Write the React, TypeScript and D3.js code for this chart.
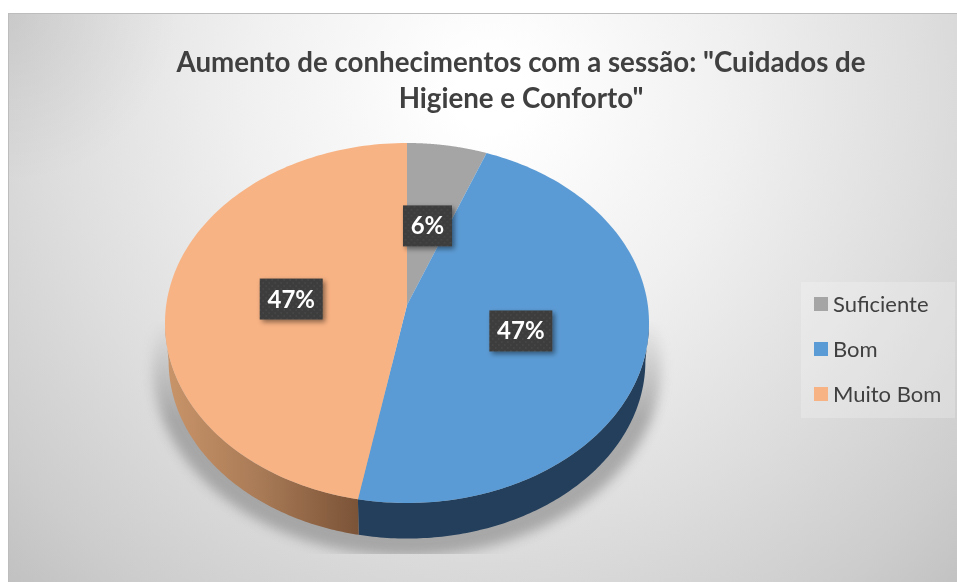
import React from "react";
import * as d3 from "d3";

const categories = ["Suficiente", "Bom", "Muito Bom"];
const values = [1, 8, 8];
const labels = ["6%", "47%", "47%"];
const topColors = ["#A5A5A5", "#5B9BD5", "#F8B384"];
const titleLines = ['Aumento de conhecimentos com a sessão: "Cuidados de', 'Higiene e Conforto"'];

const W = 957, H = 582;
const FONT = "Lato, 'Open Sans', sans-serif";
const cx = 407, cy = 305, A = 240.8, B = 178.2, K = 0.1, DEPTH = 36, BOTTOM_SCALE = 0.985;

function project(angle: number, r = 1, offset = 0, scale = 1): [number, number] {
  const X = Math.sin(angle) * r, Z = Math.cos(angle) * r;
  const w = 1 + K * Z;
  return [cx + (A * scale * X) / w, cy + offset - (B * scale * Z) / w];
}
const samples = (a0: number, a1: number) => d3.range(0, 121).map((i) => a0 + ((a1 - a0) * i) / 120);
const line = d3.line<[number, number]>().x((d) => d[0]).y((d) => d[1]);

const arcs = d3.pie<number>().sort(null).value((d) => d)(values);
const LEFT_TAN = Math.PI * 2 - Math.acos(-K);
const RIGHT_TAN = Math.acos(-K);
const BOTTOM_OFFSET = DEPTH + 2.5;

function wedge(a0: number, a1: number) {
  return line([[cx, cy], ...samples(a0, a1).map((a) => project(a))])! + "Z";
}
function side(a0: number, a1: number) {
  const s = Math.max(a0, RIGHT_TAN), e = Math.min(a1, LEFT_TAN);
  if (e <= s) return "";
  const upper = samples(s, e).map((a) => project(a));
  const lower = samples(s, e).reverse().map((a) => project(a, 1, BOTTOM_OFFSET, BOTTOM_SCALE));
  return line([...upper, ...lower])! + "Z";
}
const sideColors = ["#5f5f5f", "#233f5c", "url(#orangeSide)"];
const shadowPath = line(samples(0, Math.PI * 2).map((a) => project(a, 1.05, 42, 1)))! + "Z";
const labelR = 0.485;

export default function App() {
  const legendY = d3.scalePoint<string>().domain(categories).range([304, 394]);
  return (
    <svg width={W} height={H} viewBox={`0 0 ${W} ${H}`} style={{ position: "fixed", left: 0, top: 0 }}>
      <defs>
        <radialGradient id="bg" gradientUnits="userSpaceOnUse" cx={490} cy={95} r={700}>
          <stop offset="0.05" stopColor="#ffffff" />
          <stop offset="0.35" stopColor="#f0f0f0" />
          <stop offset="0.62" stopColor="#dedede" />
          <stop offset="0.85" stopColor="#cdcdcd" />
          <stop offset="1" stopColor="#bfbfbf" />
        </radialGradient>
        <radialGradient id="cornerTL" gradientUnits="userSpaceOnUse" cx={8} cy={13} r={170}>
          <stop offset="0" stopColor="#000" stopOpacity={0.07} />
          <stop offset="1" stopColor="#000" stopOpacity={0} />
        </radialGradient>
        <linearGradient id="orangeSide" gradientUnits="userSpaceOnUse" x1={165} y1={0} x2={358} y2={0}>
          <stop offset="0" stopColor="#c99469" />
          <stop offset="0.5" stopColor="#a87a56" />
          <stop offset="1" stopColor="#7b5337" />
        </linearGradient>
        <linearGradient id="shadowFade" gradientUnits="userSpaceOnUse" x1={0} y1={320} x2={0} y2={420}>
          <stop offset="0" stopColor="#fff" stopOpacity={0} />
          <stop offset="1" stopColor="#fff" stopOpacity={1} />
        </linearGradient>
        <mask id="shadowMask" maskUnits="userSpaceOnUse" x={0} y={0} width={W} height={H}>
          <rect x={0} y={0} width={W} height={554} fill="url(#shadowFade)" />
        </mask>
        <filter id="blur5" x="-10%" y="-10%" width="120%" height="120%">
          <feGaussianBlur stdDeviation={6} />
        </filter>
        <filter id="labelShadow" x="-30%" y="-30%" width="170%" height="170%">
          <feDropShadow dx={2.5} dy={2.5} stdDeviation={2.5} floodColor="#000" floodOpacity={0.45} />
        </filter>
        <pattern id="dots" width={6} height={6} patternUnits="userSpaceOnUse">
          <rect width={6} height={6} fill="#3c3c3c" />
          <circle cx={2} cy={2} r={1} fill="#474747" />
          <circle cx={5} cy={5} r={1} fill="#474747" />
        </pattern>
      </defs>

      <rect x={8.5} y={13.5} width={W} height={H} fill="url(#bg)" stroke="#bdbdbd" />
      <rect x={9} y={14} width={175} height={175} fill="url(#cornerTL)" />

      <g fontFamily={FONT} fontWeight={700} fontSize={27.7} fill="#404040" textAnchor="middle">
        {titleLines.map((t, i) => (
          <text key={t} x={521} y={72 + i * 36}>{t}</text>
        ))}
      </g>

      <g mask="url(#shadowMask)">
        <path d={shadowPath} fill="#8a8a8a" opacity={0.65} filter="url(#blur5)" />
      </g>

      {arcs.map((a, i) => {
        const d = side(a.startAngle, a.endAngle);
        return d ? <path key={i} d={d} fill={sideColors[i]} /> : null;
      })}
      {arcs.map((a, i) => (
        <path key={i} d={wedge(a.startAngle, a.endAngle)} fill={topColors[i]} />
      ))}

      {arcs.map((a, i) => {
        const [x, y] = project((a.startAngle + a.endAngle) / 2, labelR);
        const bw = labels[i].length === 2 ? 49 : 63;
        const bh = 41;
        return (
          <g key={i} transform={`translate(${x},${y + 2})`}>
            <rect x={-bw / 2} y={-bh / 2} width={bw} height={bh} fill="url(#dots)" filter="url(#labelShadow)" />
            <text y={8.5} textAnchor="middle" fontFamily={FONT} fontWeight={700} fontSize={24} fill="#fff">
              {labels[i]}
            </text>
          </g>
        );
      })}

      <rect x={801} y={282} width={154} height={136} fill="#fff" opacity={0.22} />
      {categories.map((c, i) => (
        <g key={c} transform={`translate(814,${legendY(c)})`}>
          <rect x={0} y={-7} width={14} height={14} fill={topColors[i]} />
          <text x={19} y={8} fontFamily={FONT} fontSize={22} fill="#404040">{c}</text>
        </g>
      ))}
    </svg>
  );
}
